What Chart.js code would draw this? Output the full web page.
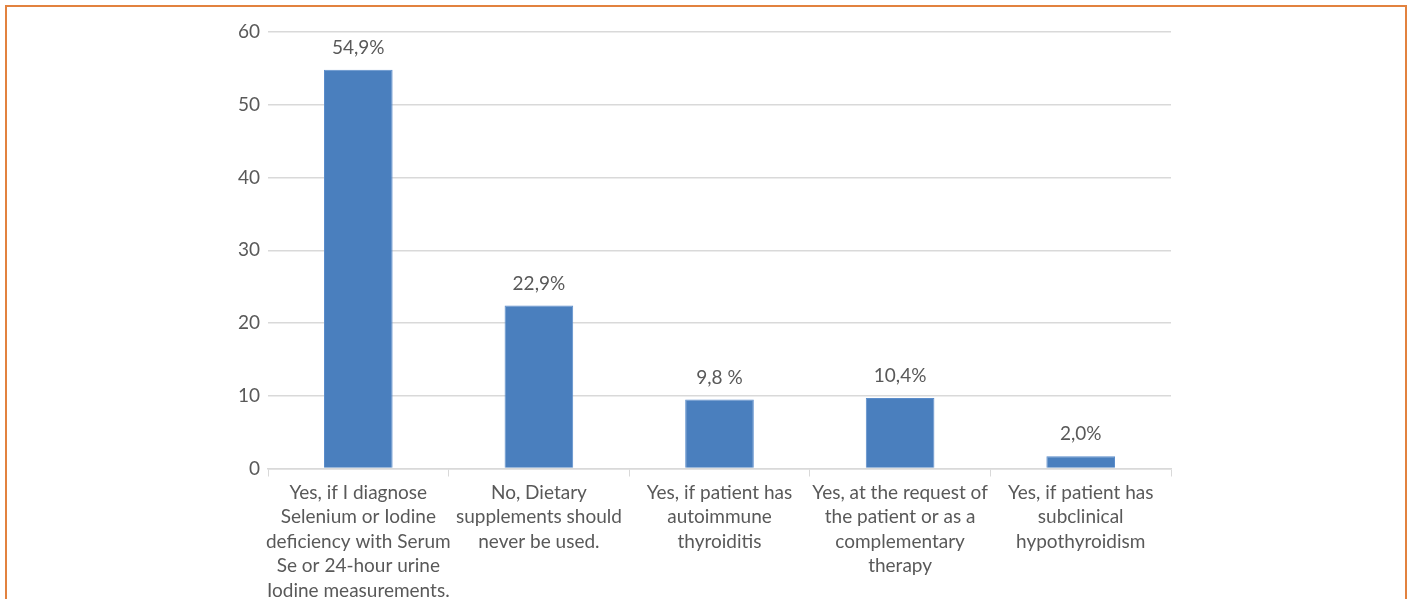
<!DOCTYPE html>
<html>
<head>
<meta charset="utf-8">
<script src="https://cdn.jsdelivr.net/npm/chart.js@4"></script>
<style>
  html, body { margin: 0; padding: 0; background: #fff; overflow: hidden; }
  #wrap { position: relative; width: 1409px; height: 599px; }
  #frame { position: absolute; left: 5px; top: 5px; width: 1402px; height: 620px; border: 2px solid #e2823f; box-sizing: border-box; }
  canvas { position: absolute; left: 0; top: 0; }
</style>
</head>
<body>
<div id="wrap">
  <div id="frame"></div>
  <canvas id="myChart" width="1409" height="599"></canvas>
</div>
<script>
var categories = [
  ['Yes, if I diagnose', 'Selenium or Iodine', 'deficiency with Serum', 'Se or 24-hour urine', 'Iodine measurements.'],
  ['No, Dietary', 'supplements should', 'never be used.'],
  ['Yes, if patient has', 'autoimmune', 'thyroiditis'],
  ['Yes, at the request of', 'the patient or as a', 'complementary', 'therapy'],
  ['Yes, if patient has', 'subclinical', 'hypothyroidism']
];
var values = [54.8, 22.4, 9.5, 9.7, 1.7];
var valueLabels = ['54,9%', '22,9%', '9,8 %', '10,4%', '2,0%'];
var yTicks = [0, 10, 20, 30, 40, 50, 60];

var textColor = '#595959';
var gridColor = '#d9d9d9';
var fontFamily = 'Lato, "Open Sans", sans-serif';

var barLabels = {
  id: 'barLabels',
  afterDatasetsDraw: function(chart) {
    var ctx = chart.ctx;
    var meta = chart.getDatasetMeta(0);
    ctx.save();
    ctx.font = '19px ' + fontFamily;
    ctx.textAlign = 'center';
    ctx.textBaseline = 'middle';
    meta.data.forEach(function(bar, i) {
      var txt = valueLabels[i];
      var w = ctx.measureText(txt).width + 12;
      var y = bar.y - 22;
      ctx.fillStyle = '#fff';
      ctx.fillRect(bar.x - w / 2, y - 11, w, 22);
      ctx.fillStyle = textColor;
      ctx.fillText(txt, bar.x, y);
    });
    ctx.restore();
  }
};

document.addEventListener('DOMContentLoaded', function() {
  var ctx = document.getElementById('myChart').getContext('2d');
  var myChart = new Chart(ctx, {
    type: 'bar',
    data: {
      labels: categories,
      datasets: [{
        data: values,
        backgroundColor: '#4a7fbe',
        borderColor: '#5b8dcb',
        borderWidth: 1,
        barPercentage: 0.38,
        categoryPercentage: 1
      }]
    },
    plugins: [barLabels],
    options: {
      responsive: false,
      animation: false,
      layout: { padding: { top: 32, right: 238, bottom: 0, left: 0 } },
      plugins: {
        legend: { display: false },
        tooltip: { enabled: false }
      },
      scales: {
        x: {
          afterFit: function(scale) { scale.height = 130.5; },
          grid: {
            display: true,
            drawOnChartArea: false,
            drawTicks: true,
            tickLength: 8,
            color: gridColor,
            offset: true
          },
          border: { display: true, color: gridColor, width: 1.5 },
          ticks: {
            color: textColor,
            font: { family: fontFamily, size: 19, lineHeight: 1.29 },
            padding: 4,
            maxRotation: 0,
            autoSkip: false
          }
        },
        y: {
          min: 0,
          max: 60,
          afterFit: function(scale) { scale.width = 268; },
          afterBuildTicks: function(scale) {
            scale.ticks = yTicks.map(function(v) { return { value: v }; });
          },
          grid: { color: gridColor, lineWidth: 1.5, drawTicks: false },
          border: { display: false },
          ticks: {
            color: textColor,
            font: { family: fontFamily, size: 19 },
            padding: 8
          }
        }
      }
    }
  });
});
</script>
</body>
</html>
